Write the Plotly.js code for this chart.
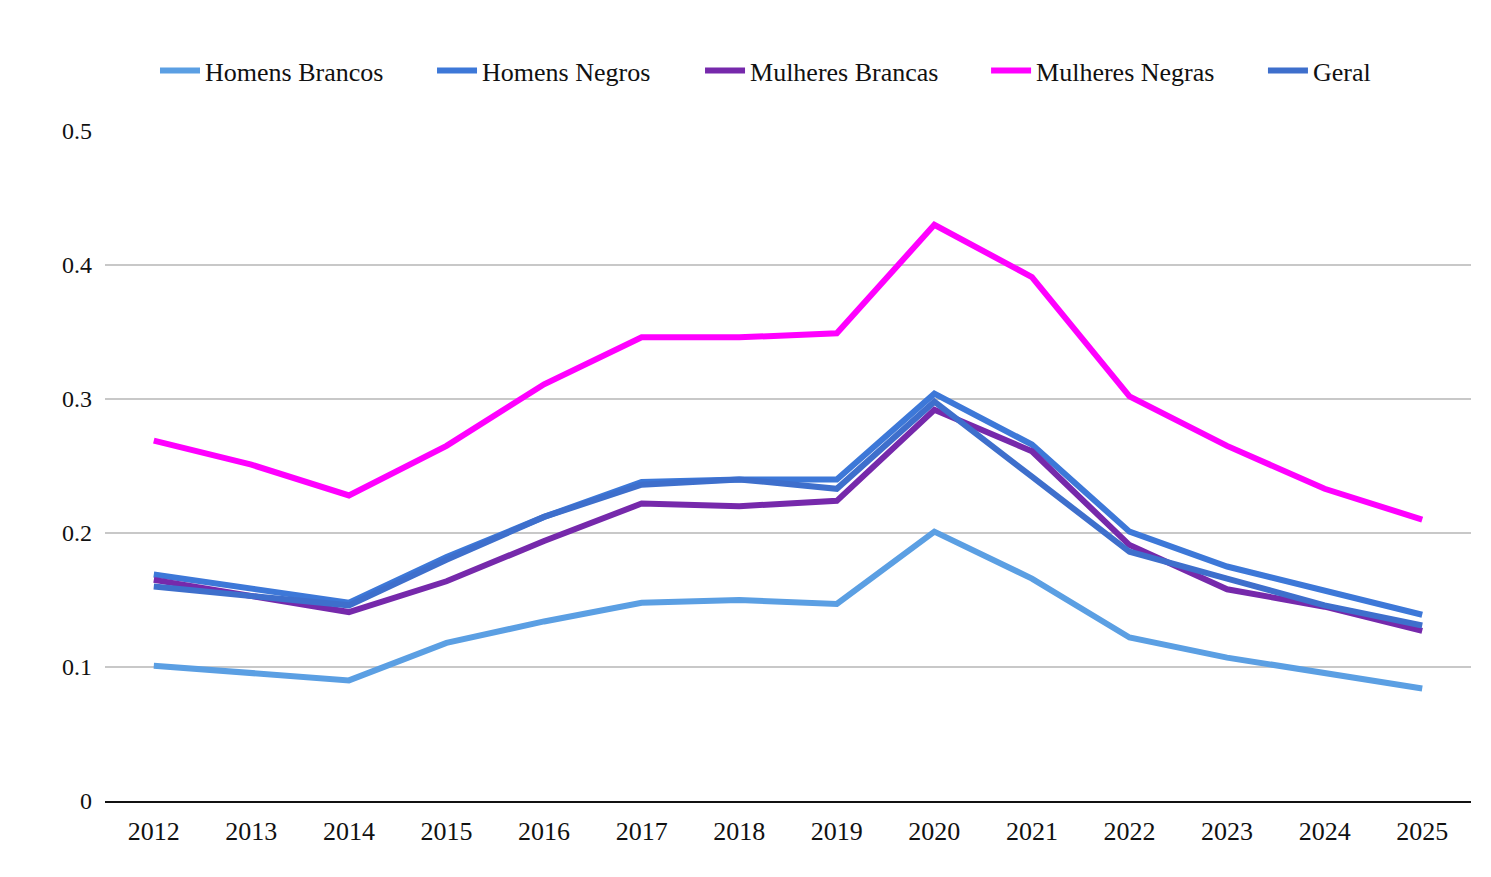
<!DOCTYPE html>
<html>
<head>
<meta charset="utf-8">
<script src="https://cdn.plot.ly/plotly-3.0.1.min.js"></script>
<style>html,body{margin:0;padding:0;background:#fff;}#chart{width:1491px;height:877px;}</style>
</head>
<body>
<div id="chart"></div>
<script>
const years = ["2012","2013","2014","2015","2016","2017","2018","2019","2020","2021","2022","2023","2024","2025"];
const homensBrancos   = [0.101, 0.095, 0.090, 0.118, 0.134, 0.148, 0.150, 0.147, 0.201, 0.166, 0.122, 0.107, 0.096, 0.084];
const homensNegros    = [0.169, 0.158, 0.148, 0.182, 0.212, 0.238, 0.240, 0.240, 0.304, 0.266, 0.201, 0.175, 0.157, 0.139];
const mulheresBrancas = [0.165, 0.153, 0.141, 0.164, 0.194, 0.222, 0.220, 0.224, 0.292, 0.261, 0.191, 0.158, 0.145, 0.127];
const mulheresNegras  = [0.269, 0.251, 0.228, 0.265, 0.311, 0.346, 0.346, 0.349, 0.430, 0.391, 0.302, 0.265, 0.233, 0.210];
const geral           = [0.160, 0.153, 0.146, 0.180, 0.212, 0.236, 0.240, 0.233, 0.298, 0.242, 0.186, 0.166, 0.146, 0.131];
const seriesNames = ["Homens Brancos","Homens Negros","Mulheres Brancas","Mulheres Negras","Geral"];
const colors = ["#5B9FE3","#3D78D8","#7629AB","#FF00FF","#3E6FCC"];
const values = [homensBrancos, homensNegros, mulheresBrancas, mulheresNegras, geral];
const yTicks = [0, 0.1, 0.2, 0.3, 0.4, 0.5];
const yTickText = ["0", "0.1", "0.2", "0.3", "0.4", "0.5"];

const font = "Liberation Serif, DejaVu Serif, serif";
const legendIds = ["legend", "legend2", "legend3", "legend4", "legend5"];
const legendX = [0.0366, 0.2394, 0.4356, 0.645, 0.8477];

const traces = seriesNames.map((n, i) => ({
  type: "scatter", mode: "lines", name: n, x: years, y: values[i],
  line: {color: colors[i], width: 6}, legend: legendIds[i]
}));

const layout = {
  width: 1491, height: 877,
  margin: {l: 105, r: 20, t: 131, b: 76},
  paper_bgcolor: "#fff", plot_bgcolor: "#fff",
  font: {family: font, size: 22, color: "#111"},
  showlegend: true,
  xaxis: {type: "category", range: [-0.5, 13.5], showgrid: false, showline: true, linecolor: "#111", linewidth: 2,
          ticks: "", tickfont: {family: font, size: 26, color: "#111"}, ticklabelstandoff: 6, fixedrange: true},
  yaxis: {range: [0, 0.5], tickvals: yTicks, ticktext: yTickText, showgrid: true, gridcolor: "#c8c8c8", gridwidth: 1.3,
          zeroline: false, showline: false, ticks: "", ticklabelstandoff: 12,
          tickfont: {family: font, size: 24, color: "#111"}, fixedrange: true}
};
legendIds.forEach((id, i) => {
  layout[id] = {orientation: "h", x: legendX[i], xanchor: "left", y: 1.09, yanchor: "middle",
                font: {family: font, size: 26, color: "#111"}, itemwidth: 40, bgcolor: "rgba(0,0,0,0)"};
});
Plotly.newPlot("chart", traces, layout, {displayModeBar: false, staticPlot: true});
</script>
</body>
</html>
